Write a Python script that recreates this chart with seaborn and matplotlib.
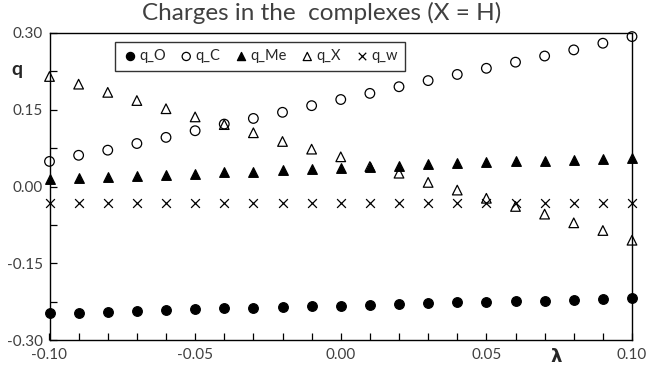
import pandas as pd
import seaborn as sns
import matplotlib.pyplot as plt
from matplotlib.ticker import MultipleLocator, FormatStrFormatter

lam = [-0.10, -0.09, -0.08, -0.07, -0.06, -0.05, -0.04, -0.03, -0.02, -0.01, 0.00,
       0.01, 0.02, 0.03, 0.04, 0.05, 0.06, 0.07, 0.08, 0.09, 0.10]

q_O = [-0.248, -0.247, -0.245, -0.243, -0.241, -0.240, -0.238, -0.237, -0.236, -0.234, -0.233,
       -0.232, -0.230, -0.228, -0.226, -0.225, -0.224, -0.223, -0.221, -0.219, -0.217]
q_C = [0.049, 0.061, 0.071, 0.084, 0.096, 0.109, 0.122, 0.133, 0.145, 0.158, 0.170,
       0.182, 0.195, 0.207, 0.219, 0.231, 0.243, 0.255, 0.267, 0.280, 0.293]
q_Me = [0.015, 0.017, 0.019, 0.020, 0.022, 0.025, 0.028, 0.029, 0.032, 0.034, 0.036,
        0.039, 0.041, 0.043, 0.045, 0.047, 0.049, 0.050, 0.052, 0.054, 0.056]
q_X = [0.215, 0.200, 0.184, 0.168, 0.152, 0.136, 0.121, 0.105, 0.088, 0.073, 0.058,
       0.039, 0.026, 0.008, -0.007, -0.023, -0.039, -0.054, -0.071, -0.086, -0.105]
q_w = [-0.032] * 21

series = ["q_O", "q_C", "q_Me", "q_X", "q_w"]
df = pd.DataFrame({"lam": lam, "q_O": q_O, "q_C": q_C, "q_Me": q_Me, "q_X": q_X, "q_w": q_w})
long_df = df.melt(id_vars="lam", var_name="serie", value_name="q")

sns.set_style("white")
plt.rcParams["font.family"] = ["Lato", "DejaVu Sans"]

fig = plt.figure(figsize=(6.46, 3.67), dpi=100)
ax = fig.add_axes([49.5 / 646, 1 - 340 / 367, (632 - 49.5) / 646, (340 - 33) / 367])

# marcador, con relleno, tamaño
estilos = {
    "q_O": ("o", True, 48),
    "q_C": ("o", False, 48),
    "q_Me": ("^", True, 48),
    "q_X": ("^", False, 48),
    "q_w": ("x", True, 40),
}

for name in series:
    marker, lleno, size = estilos[name]
    sub = long_df[long_df["serie"] == name]
    sns.scatterplot(data=sub, x="lam", y="q", ax=ax, marker=marker, s=size,
                    color="black", edgecolor="black",
                    linewidth=0.9, label=name, zorder=3, clip_on=False)
    if not lleno:
        ax.collections[-1].set_facecolor("none")

ax.set_xlim(-0.10, 0.10)
ax.set_ylim(-0.30, 0.30)
ax.xaxis.set_major_locator(MultipleLocator(0.05))
ax.xaxis.set_minor_locator(MultipleLocator(0.01))
ax.yaxis.set_major_locator(MultipleLocator(0.15))
ax.yaxis.set_minor_locator(MultipleLocator(0.075))
ax.xaxis.set_major_formatter(FormatStrFormatter("%.2f"))
ax.yaxis.set_major_formatter(FormatStrFormatter("%.2f"))
ax.tick_params(which="both", direction="in", length=5, width=0.9, color="black",
               labelsize=11, labelcolor="#404040", bottom=True, left=True)
ax.tick_params(axis="x", pad=6)
ax.tick_params(axis="y", pad=5)
for sp in ax.spines.values():
    sp.set_color("black")
    sp.set_linewidth(1.0)

ax.set_xlabel("")
ax.set_ylabel("")
fig.text(17 / 646, 1 - 70 / 367, "q", fontsize=14, fontweight="bold", ha="center", va="center")
fig.text(556 / 646, 1 - 357 / 367, "λ", fontsize=13, fontweight="bold", ha="center", va="center",
         family=["DejaVu Sans"])
fig.suptitle("Charges in the  complexes (X = H)", y=1 - 13 / 367, va="center",
             fontsize=17.5, color="#404040", x=(147 + 496) / 2 / 646)

leg = ax.legend(loc="upper left", bbox_to_anchor=(115 / 646, 1 - 42 / 367),
                bbox_transform=fig.transFigure, ncol=5, frameon=True, fancybox=False,
                borderaxespad=0, handletextpad=0.15, columnspacing=0.9, fontsize=10.5,
                borderpad=0.5, handlelength=1.0, markerscale=0.85)
leg.get_frame().set_edgecolor("black")
leg.get_frame().set_linewidth(1.0)

plt.savefig("out.png", dpi=100)
plt.close()
